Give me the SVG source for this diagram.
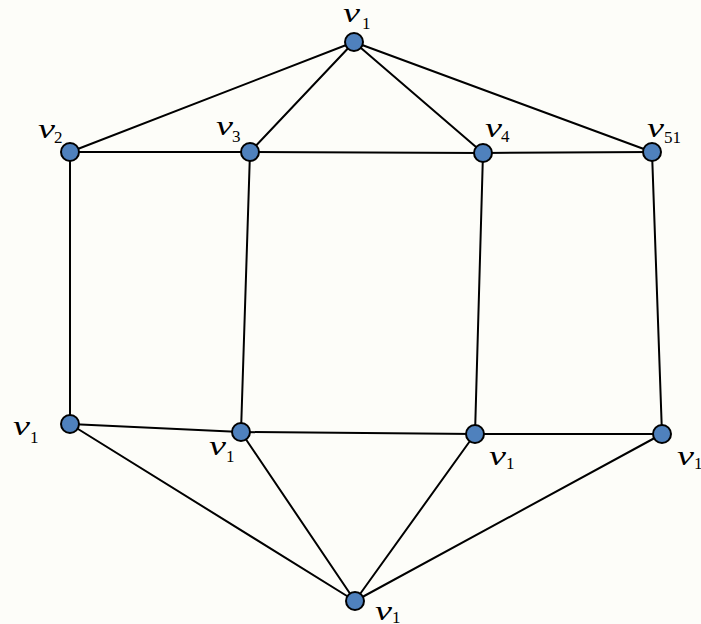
<svg xmlns="http://www.w3.org/2000/svg" width="701" height="624" viewBox="0 0 701 624">
  <style>
    .edge { stroke: #000; stroke-width: 2; fill: none; stroke-linecap: round; }
    .vertex { fill: #4f81bd; stroke: #000; stroke-width: 2; }
    .lbl { font-family: "Liberation Serif", "DejaVu Serif", serif; font-style: italic; font-size: 28px; fill: #000; }
    .sub { font-family: "Liberation Serif", "DejaVu Serif", serif; font-size: 17px; fill: #000; }
  </style>
  <rect width="701" height="624" fill="#fdfdf9"/>

  <!-- edges -->
  <g id="edges">
    <line class="edge" x1="354" y1="42" x2="70" y2="152"/>
    <line class="edge" x1="354" y1="42" x2="250" y2="152"/>
    <line class="edge" x1="354" y1="42" x2="483" y2="153"/>
    <line class="edge" x1="354" y1="42" x2="652" y2="152"/>
    <line class="edge" x1="70" y1="152" x2="250" y2="152"/>
    <line class="edge" x1="250" y1="152" x2="483" y2="153"/>
    <line class="edge" x1="483" y1="153" x2="652" y2="152"/>
    <line class="edge" x1="70" y1="152" x2="70" y2="424"/>
    <line class="edge" x1="250" y1="152" x2="241" y2="432"/>
    <line class="edge" x1="483" y1="153" x2="475" y2="434"/>
    <line class="edge" x1="652" y1="152" x2="662" y2="434"/>
    <line class="edge" x1="70" y1="424" x2="241" y2="432"/>
    <line class="edge" x1="241" y1="432" x2="475" y2="434"/>
    <line class="edge" x1="475" y1="434" x2="662" y2="434"/>
    <line class="edge" x1="70" y1="424" x2="355" y2="601"/>
    <line class="edge" x1="241" y1="432" x2="355" y2="601"/>
    <line class="edge" x1="475" y1="434" x2="355" y2="601"/>
    <line class="edge" x1="662" y1="434" x2="355" y2="601"/>
  </g>

  <!-- vertices: italic v with an upright index -->
  <g id="v-top">
    <circle class="vertex" cx="354" cy="42" r="9"/>
    <text class="lbl" x="343" y="22" textLength="17" lengthAdjust="spacingAndGlyphs">v</text>
    <text class="sub" x="362" y="29">1</text>
  </g>
  <g id="v2">
    <circle class="vertex" cx="70" cy="152" r="9"/>
    <text class="lbl" x="38" y="138" textLength="17" lengthAdjust="spacingAndGlyphs">v</text>
    <text class="sub" x="54" y="143">2</text>
  </g>
  <g id="v3">
    <circle class="vertex" cx="250" cy="152" r="9"/>
    <text class="lbl" x="216" y="135" textLength="17" lengthAdjust="spacingAndGlyphs">v</text>
    <text class="sub" x="232" y="142">3</text>
  </g>
  <g id="v4">
    <circle class="vertex" cx="483" cy="153" r="9"/>
    <text class="lbl" x="485" y="137" textLength="17" lengthAdjust="spacingAndGlyphs">v</text>
    <text class="sub" x="501" y="142">4</text>
  </g>
  <g id="v51">
    <circle class="vertex" cx="652" cy="152" r="9"/>
    <text class="lbl" x="647" y="137" textLength="17" lengthAdjust="spacingAndGlyphs">v</text>
    <text class="sub" x="664" y="143">51</text>
  </g>
  <g id="v-left">
    <circle class="vertex" cx="70" cy="424" r="9"/>
    <text class="lbl" x="13" y="435" textLength="17" lengthAdjust="spacingAndGlyphs">v</text>
    <text class="sub" x="30" y="443">1</text>
  </g>
  <g id="v-midleft">
    <circle class="vertex" cx="241" cy="432" r="9"/>
    <text class="lbl" x="209" y="455" textLength="17" lengthAdjust="spacingAndGlyphs">v</text>
    <text class="sub" x="226" y="462">1</text>
  </g>
  <g id="v-midright">
    <circle class="vertex" cx="475" cy="434" r="9"/>
    <text class="lbl" x="489" y="465" textLength="17" lengthAdjust="spacingAndGlyphs">v</text>
    <text class="sub" x="506" y="469">1</text>
  </g>
  <g id="v-right">
    <circle class="vertex" cx="662" cy="434" r="9"/>
    <text class="lbl" x="677" y="465" textLength="17" lengthAdjust="spacingAndGlyphs">v</text>
    <text class="sub" x="694" y="469">1</text>
  </g>
  <g id="v-bottom">
    <circle class="vertex" cx="355" cy="601" r="9"/>
    <text class="lbl" x="375" y="620" textLength="17" lengthAdjust="spacingAndGlyphs">v</text>
    <text class="sub" x="392" y="623">1</text>
  </g>
</svg>
